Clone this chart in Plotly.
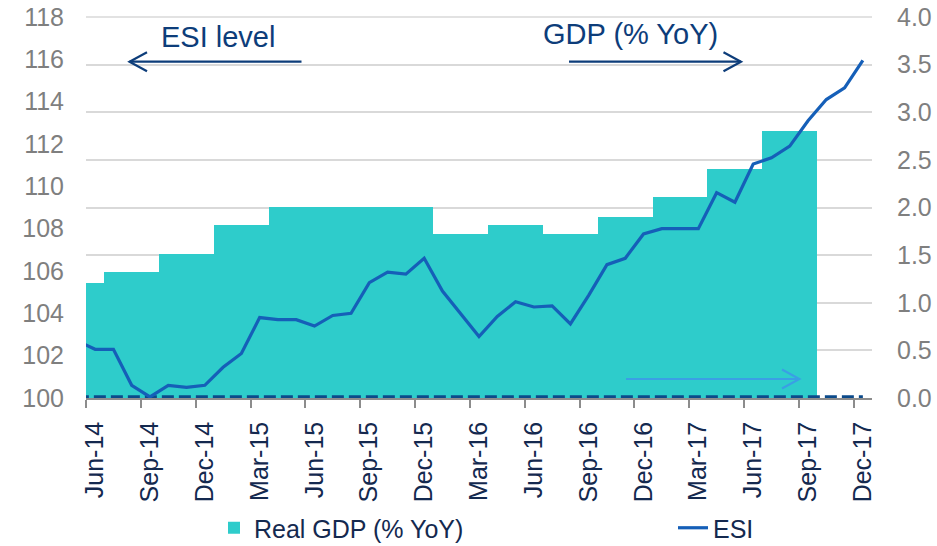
import plotly.graph_objects as go

# ---- data ----
months = ["Jun-14", "Jul-14", "Aug-14", "Sep-14", "Oct-14", "Nov-14", "Dec-14",
          "Jan-15", "Feb-15", "Mar-15", "Apr-15", "May-15", "Jun-15", "Jul-15",
          "Aug-15", "Sep-15", "Oct-15", "Nov-15", "Dec-15",
          "Jan-16", "Feb-16", "Mar-16", "Apr-16", "May-16", "Jun-16", "Jul-16",
          "Aug-16", "Sep-16", "Oct-16", "Nov-16", "Dec-16",
          "Jan-17", "Feb-17", "Mar-17", "Apr-17", "May-17", "Jun-17", "Jul-17",
          "Aug-17", "Sep-17", "Oct-17", "Nov-17", "Dec-17"]

# ESI level (left axis); esi_prev is May-14 (just before the visible range)
esi_prev = 102.7
esi = [102.3, 102.3, 100.6, 100.05, 100.6, 100.5, 100.6,
       101.45, 102.1, 103.8, 103.7, 103.7, 103.4, 103.9, 104.0, 105.45,
       105.95, 105.85, 106.6,
       105.05, 104.0, 102.9, 103.85, 104.55, 104.3, 104.35, 103.5, 104.85,
       106.3, 106.6, 107.75,
       108.0, 108.0, 108.0, 109.7, 109.25, 111.05, 111.35, 111.9, 113.1,
       114.1, 114.65, 115.95]

# Real GDP % YoY (right axis), quarterly value repeated for each month
gdp = [1.21,
       1.32, 1.32, 1.32,
       1.51, 1.51, 1.51,
       1.82, 1.82, 1.82,
       2.01, 2.01, 2.01,
       2.01, 2.01, 2.01,
       2.01, 2.01, 2.01,
       1.72, 1.72, 1.72,
       1.82, 1.82, 1.82,
       1.72, 1.72, 1.72,
       1.90, 1.90, 1.90,
       2.11, 2.11, 2.11,
       2.40, 2.40, 2.40,
       2.80, 2.80, 2.80,
       None, None, None]

zero_line = [0.0] * (len(months) + 1)

left_ticks = [100, 102, 104, 106, 108, 110, 112, 114, 116, 118]
right_ticks = [0.0, 0.5, 1.0, 1.5, 2.0, 2.5, 3.0, 3.5, 4.0]

# ---- figure ----
idx = list(range(len(months)))
idx_ext = [-1] + idx

TEAL = "#2ecccb"
LINE = "#155fb8"
NAVY = "#0d3d7a"
DASH = "#0b4a8a"
XLAB = "#14294f"
GRID = "#d9d9d9"
FONT = "Liberation Sans, Arial, sans-serif"

fig = go.Figure()
fig.add_trace(go.Bar(x=idx, y=gdp, name="Real GDP (% YoY)", marker_color=TEAL,
                     marker_line_width=0, width=1.0, yaxis="y", legend="legend"))
fig.add_trace(go.Scatter(x=idx_ext, y=zero_line, mode="lines", showlegend=False,
                         line=dict(color=DASH, width=5.5, dash="12px,5px"), yaxis="y",
                         hoverinfo="skip"))
fig.add_trace(go.Scatter(x=idx_ext, y=[esi_prev] + esi, mode="lines", name="ESI",
                         line=dict(color=LINE, width=3.2), yaxis="y2", legend="legend2"))

W, H = 937, 546
L, R, T, B = 86, 65, 17, 148
PW, PH = W - L - R, H - T - B


def px(x):
    return (x - L) / PW


def py(y):
    return (H - B - y) / PH


def cx(x):
    return x / W


def cy(y):
    return (H - y) / H


shapes = [
    # top gridline (plotly drops gridlines at the exact range ends)
    dict(type="line", xref="paper", yref="paper", x0=0, x1=1, y0=1, y1=1,
         line=dict(color=GRID, width=1.6), layer="below"),
]


def arrow(x0, x1, y, color, width, right=True):
    shapes.append(dict(type="line", xref="paper", yref="paper",
                       x0=px(x0), x1=px(x1), y0=py(y), y1=py(y),
                       line=dict(color=color, width=width)))
    tip = x1 if right else x0
    back = tip - 17.5 if right else tip + 17.5
    path = "M {} {} L {} {} L {} {}".format(px(back), py(y - 9.5), px(tip), py(y),
                                            px(back), py(y + 9.5))
    shapes.append(dict(type="path", xref="paper", yref="paper", path=path,
                       line=dict(color=color, width=width)))


arrow(129.5, 301.5, 61.7, NAVY, 2.2, right=False)
arrow(569, 741, 61.7, NAVY, 2.2, right=True)
arrow(626, 799.5, 379, "#3a9fe5", 2.0, right=True)

annotations = [
    dict(text="ESI level", xref="paper", yref="paper", x=px(218), y=py(37),
         xanchor="center", yanchor="middle", showarrow=False,
         font=dict(family=FONT, size=29, color=NAVY)),
    dict(text="GDP (% YoY)", xref="paper", yref="paper", x=px(630.5), y=py(34),
         xanchor="center", yanchor="middle", showarrow=False,
         font=dict(family=FONT, size=29, color=NAVY)),
]

leg_common = dict(orientation="h", xref="container", yref="container",
                  xanchor="left", yanchor="middle", y=cy(528),
                  font=dict(family=FONT, size=25, color=XLAB),
                  itemwidth=30, bgcolor="rgba(0,0,0,0)")

fig.update_layout(
    width=W, height=H,
    margin=dict(l=L, r=R, t=T, b=B, pad=0, autoexpand=False),
    paper_bgcolor="white", plot_bgcolor="white",
    font=dict(family=FONT),
    bargap=0,
    showlegend=True,
    legend=dict(x=cx(214), **leg_common),
    legend2=dict(x=cx(673), **leg_common),
    xaxis=dict(range=[-0.5, len(months) - 0.5], tickmode="array",
               tickvals=idx[::3], ticktext=months[::3], tickangle=-90,
               ticks="", ticklabelstandoff=12,
               tickfont=dict(family=FONT, size=25, color=XLAB),
               showgrid=False, zeroline=False, showline=True,
               linecolor="#8c8c8c", linewidth=1.5,
               minor=dict(tickmode="linear", tick0=-0.5, dtick=3, ticks="outside",
                          ticklen=8, tickwidth=1.5, tickcolor="#8c8c8c", showgrid=False)),
    yaxis=dict(range=[0, 4], tickmode="array", tickvals=right_ticks,
               ticktext=["{:.1f}".format(v) for v in right_ticks], side="right",
               ticks="", ticklabelstandoff=24, ticklabeloverflow="allow",
               tickfont=dict(family=FONT, size=25, color="#7f7f7f"),
               showgrid=True, gridcolor=GRID, gridwidth=1.6, zeroline=False,
               showline=False),
    yaxis2=dict(range=[100, 118], tickmode="array", tickvals=left_ticks,
                ticktext=[str(v) for v in left_ticks], side="left", overlaying="y",
                ticks="", ticklabelstandoff=21, ticklabeloverflow="allow",
                tickfont=dict(family=FONT, size=25, color="#7f7f7f"),
                showgrid=False, zeroline=False, showline=False),
    shapes=shapes,
    annotations=annotations,
)

fig.write_html("out.html",
               config={"displayModeBar": False},
               post_script="document.body.style.margin='0';"
                           "document.body.style.overflow='hidden';")
